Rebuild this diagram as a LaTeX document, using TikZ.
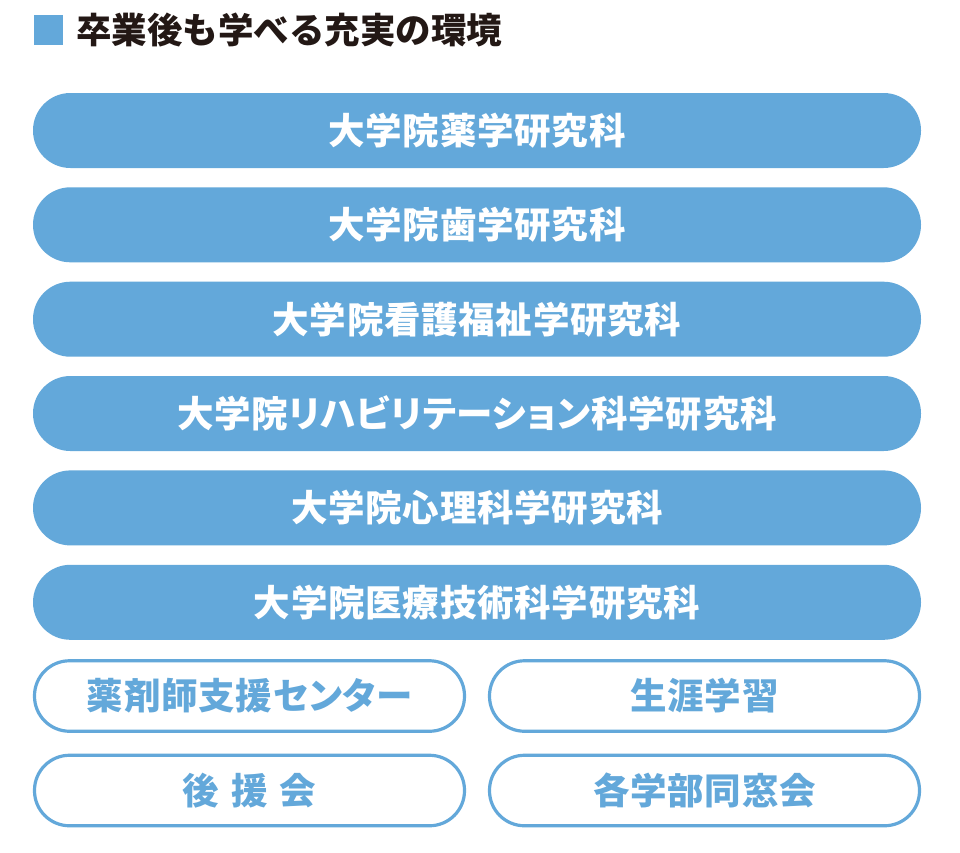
\documentclass[tikz,border=0pt]{standalone}
\usepackage{fontspec}
\newfontfamily\jpt{Noto Sans CJK JP}
\newfontfamily\jp{Noto Sans CJK JP}[RawFeature=+palt, LetterSpace=2]
\definecolor{pillblue}{RGB}{99,168,218}
\definecolor{titleink}{RGB}{35,24,21}
\tikzset{
  fullpill/.style={rectangle, fill=pillblue, draw=none, rounded corners=37.4pt,
    minimum width=888pt, minimum height=75pt, inner sep=0pt,
    text=white, font=\jp\bfseries\fontsize{36.5}{40}\selectfont},
  halfpill/.style={rectangle, fill=white, draw=pillblue, line width=3.2pt, rounded corners=35pt,
    minimum width=430pt, minimum height=70.5pt, inner sep=0pt,
    text=pillblue, font=\jp\bfseries\fontsize{36.5}{40}\selectfont},
}
\begin{document}
\begin{tikzpicture}[x=1pt,y=-1pt]
\useasboundingbox[fill=white] (0,0) rectangle (960,852);
\fill[pillblue] (34,15) rectangle (63,45);
\node[anchor=west, inner sep=0pt, text=titleink, font=\jpt\bfseries\fontsize{35.5}{39}\selectfont] (title) at (76,30) {卒業後も学べる充実の環境};
\node[fullpill] (g1) at (477,130.5) {大学院薬学研究科};
\node[fullpill] (g2) at (477,224.8) {大学院歯学研究科};
\node[fullpill] (g3) at (477,319.2) {大学院看護福祉学研究科};
\node[fullpill] (g4) at (477,413.5) {大学院リハビリテーション科学研究科};
\node[fullpill] (g5) at (477,507.9) {大学院心理科学研究科};
\node[fullpill] (g6) at (477,602.3) {大学院医療技術科学研究科};
\node[halfpill] (c1) at (249.5,696) {薬剤師支援センター};
\node[halfpill] (c2) at (704.5,696) {生涯学習};
\node[halfpill] (c3) at (249.5,790.5) {後\hspace{12pt}援\hspace{12pt}会};
\node[halfpill] (c4) at (704.5,790.5) {各学部同窓会};
\end{tikzpicture}
\end{document}
